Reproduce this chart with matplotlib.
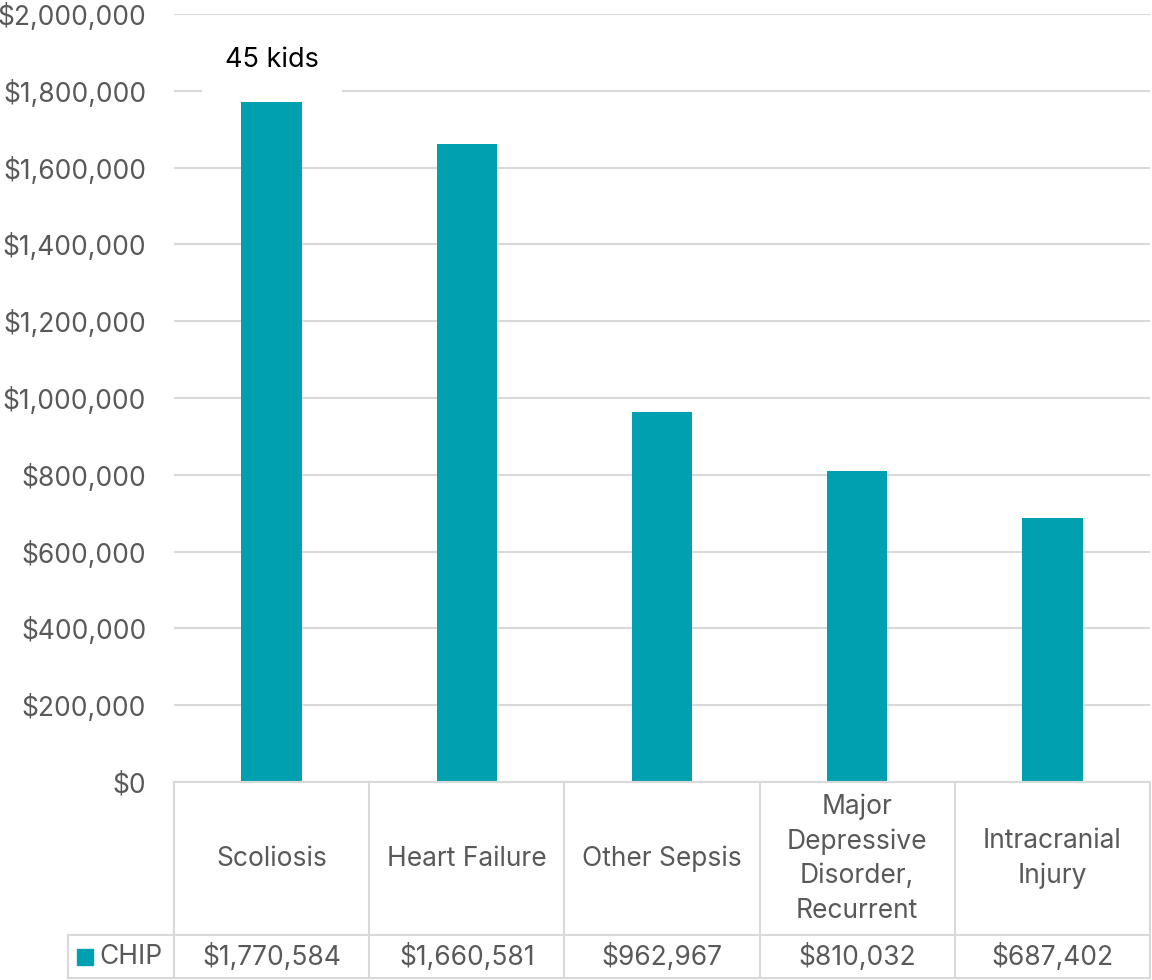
import numpy as np
import matplotlib; matplotlib.use("Agg")
import matplotlib.pyplot as plt
from matplotlib.ticker import FuncFormatter

plt.rcParams["font.family"] = ["Inter", "DejaVu Sans"]

categories = ["Scoliosis", "Heart Failure", "Other Sepsis",
              "Major\nDepressive\nDisorder,\nRecurrent", "Intracranial\nInjury"]
chip_cost = [1770584, 1660581, 962967, 810032, 687402]
series_name = "CHIP"
top_note = "45 kids"

teal = "#00A0B0"
grey_txt = "#595959"
grid_c = "#D9D9D9"
fs = 19

W, H = 1152, 980
fig = plt.figure(figsize=(W / 100, H / 100), dpi=100)

# plot area (pixel layout)
x0, x1, y_top, y_zero = 174, 1150, 14, 782
ax = fig.add_axes([x0 / W, 1 - y_zero / H, (x1 - x0) / W, (y_zero - y_top) / H])
n = len(categories)
x = np.arange(n)
ax.bar(x, chip_cost, width=0.31, color=teal, zorder=3)
ax.set_xlim(-0.5, n - 0.5)
ax.set_ylim(0, 2000000)
ax.set_yticks(np.arange(0, 2000001, 200000))
ax.yaxis.set_major_formatter(FuncFormatter(lambda v, p: f"${v:,.0f}"))
ax.tick_params(axis="y", length=0, pad=20, labelsize=fs, labelcolor=grey_txt)
ax.set_xticks([])
ax.grid(axis="y", color=grid_c, lw=1.5, zorder=0)
for s in ax.spines.values():
    s.set_visible(False)

# count note above first bar, boxed in white over the gridline
ax.text(x[0], chip_cost[0] + 110000, top_note, ha="center", va="center",
        fontsize=19.5, color="black", zorder=4,
        bbox=dict(boxstyle="square,pad=0.85", fc="white", ec="none"))

# data table under the chart
tab = fig.add_axes([0, 0, 1, 1])
tab.set_xlim(0, W)
tab.set_ylim(H, 0)
tab.axis("off")
lw = 1.5
col_w = (x1 - x0) / n
hdr_bot, row_bot, leg_left = 935, 978, 68
# horizontal lines
tab.plot([x0, x1], [y_zero, y_zero], color=grid_c, lw=lw)
tab.plot([leg_left, x1], [hdr_bot, hdr_bot], color=grid_c, lw=lw)
tab.plot([leg_left, x1], [row_bot, row_bot], color=grid_c, lw=lw)
# vertical lines
for i in range(n + 1):
    xi = x0 + i * col_w
    tab.plot([xi, xi], [y_zero, row_bot], color=grid_c, lw=lw)
tab.plot([leg_left, leg_left], [hdr_bot, row_bot], color=grid_c, lw=lw)

for i, (cat, val) in enumerate(zip(categories, chip_cost)):
    cx = x0 + (i + 0.5) * col_w
    tab.text(cx, (y_zero + hdr_bot) / 2, cat, ha="center", va="center",
             fontsize=fs, color=grey_txt, linespacing=1.42)
    tab.text(cx, (hdr_bot + row_bot) / 2, f"${val:,.0f}", ha="center", va="center",
             fontsize=fs, color=grey_txt)

# legend key
ym = (hdr_bot + row_bot) / 2
tab.add_patch(plt.Rectangle((77, ym - 8), 16, 16, color=teal))
tab.text(99, ym, series_name, ha="left", va="center", fontsize=fs, color=grey_txt)

fig.savefig("out.png", dpi=100)
